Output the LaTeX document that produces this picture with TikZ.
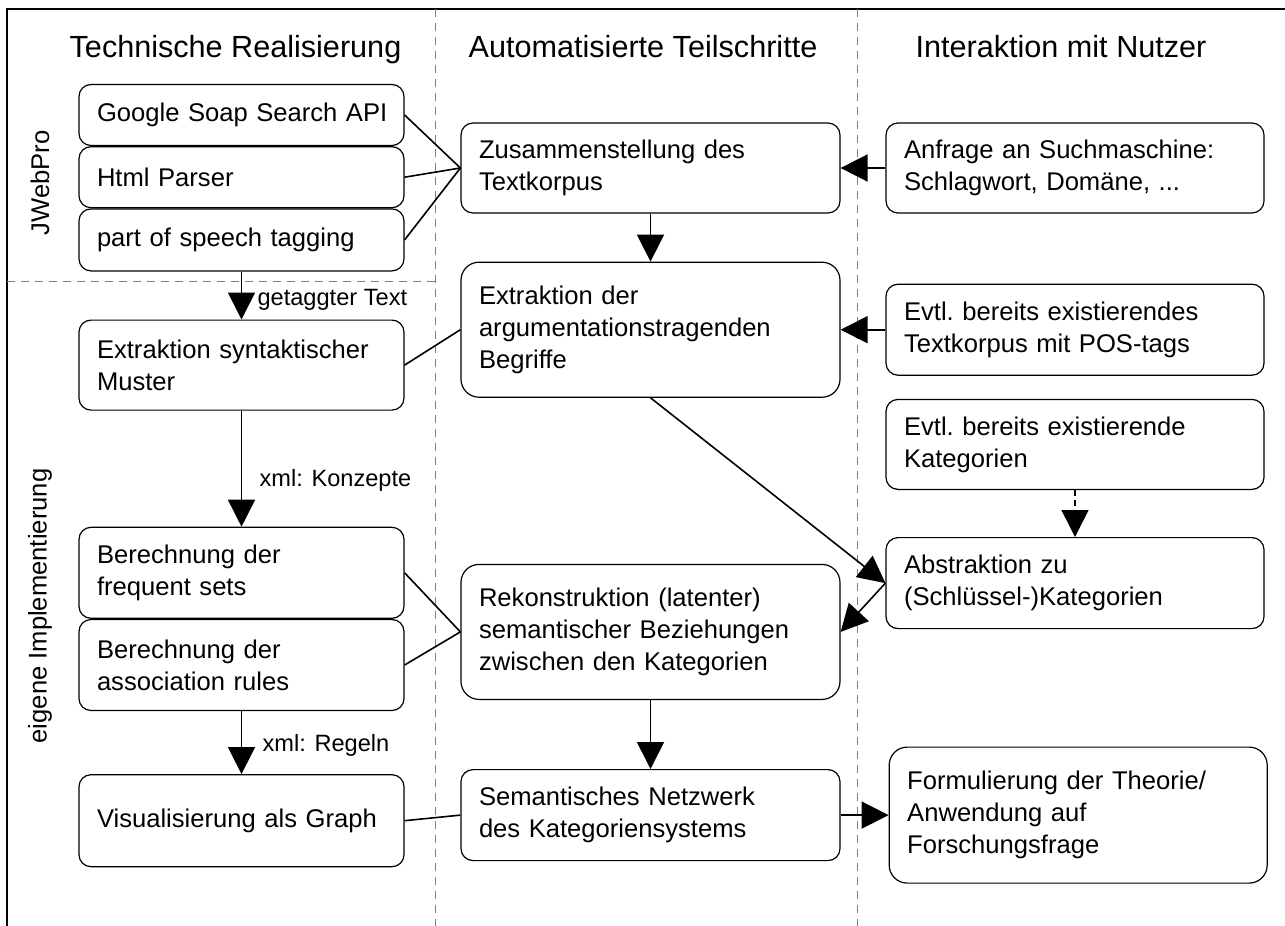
\documentclass[tikz,border=0pt]{standalone}
\usepackage{fontspec}
\setmainfont{Liberation Sans}
\usetikzlibrary{arrows.meta, positioning}

\newcommand{\boxfont}{\fontsize{12.8}{16}\selectfont\frenchspacing}
\newcommand{\headfont}{\fontsize{15.3}{18}\selectfont}
\newcommand{\lblfont}{\fontsize{11.8}{14}\selectfont}

\begin{document}
\begin{tikzpicture}[
    x=0.5pt, y=-0.5pt,
    box/.style={rectangle, draw, line width=0.6pt, rounded corners=6pt,
                align=left, inner xsep=9pt, font=\boxfont},
    techbox/.style={box, text width=144.5pt, minimum height=#1},
    techbox/.default=45.5pt,
    stepbox/.style={box, text width=171.5pt, minimum height=#1},
    stepbox/.default=45.5pt,
    userbox/.style={box, text width=171pt, minimum height=#1},
    userbox/.default=45.5pt,
    head/.style={font=\headfont, anchor=base},
    lane/.style={font=\boxfont, rotate=90},
    link/.style={line width=0.8pt},
    flow/.style={link, -{Triangle[length=13.5pt, width=13.5pt]}},
    lbl/.style={font=\lblfont},
    sep/.style={gray, line width=0.5pt, dash pattern=on 4pt off 3pt}
]
    \useasboundingbox (0,0) rectangle (1285,926);

    % Frame and lanes
    \draw[line width=0.6pt] (1285,9) -- (7,9) -- (7,926);
    \draw[sep] (435.5,9) -- (435.5,926);
    \draw[sep] (857,9) -- (857,926);
    \draw[sep] (7,281) -- (435.5,281);

    % Headers
    \node[head] (hTech) at (235.5,57) {Technische Realisierung};
    \node[head] (hAuto) at (643,57) {Automatisierte Teilschritte};
    \node[head] (hUser) at (1061,57) {Interaktion mit Nutzer};

    \node[lane] (jweb) at (40,183) {JWebPro};
    \node[lane] (own) at (40,606) {eigene Implementierung};

    % Technische Realisierung
    \node[techbox=30.5pt] (google) at (241.5,115) {\mbox{Google Soap Search API}};
    \node[techbox=30.5pt, below=0pt of google] (html) {Html Parser};
    \node[techbox=31pt, below=0pt of html] (pos) {part of speech tagging};
    \node[techbox=45pt, below=24pt of pos] (syntax) {Extraktion syntaktischer\\Muster};
    \node[techbox, below=58pt of syntax] (freq) {Berechnung der\\frequent sets};
    \node[techbox, below=0pt of freq] (assoc) {Berechnung der\\association rules};
    \node[techbox=46pt, below=31.5pt of assoc] (vis) {Visualisierung als Graph};

    % Automatisierte Teilschritte
    \node[stepbox=45pt] (corpus) at (650.5,168) {Zusammenstellung des\\Textkorpus};
    \node[stepbox=67.5pt, rounded corners=9pt, below=24pt of corpus] (terms) {Extraktion der\\argumentationstragenden\\Begriffe};
    \node[stepbox=67.5pt, rounded corners=9pt, below=83pt of terms] (recon) {Rekonstruktion (latenter)\\semantischer Beziehungen\\zwischen den Kategorien};
    \node[stepbox, below=34.5pt of recon] (net) {Semantisches Netzwerk\\des Kategoriensystems};

    % Interaktion mit Nutzer
    \node[userbox=45pt] (query) at (1075,168) {Anfrage an Suchmaschine:\\Schlagwort, Domäne, ...};
    \node[userbox, below=35pt of query] (tagged) {Evtl. bereits existierendes\\Textkorpus mit POS-tags};
    \node[userbox=45pt, below=11.5pt of tagged] (cats) {Evtl. bereits existierende\\Kategorien};
    \node[userbox, below=23.5pt of cats] (abstr) {Abstraktion zu\\(Schlüssel-)Kategorien};
    \node[userbox=68pt, rounded corners=9pt, right=24pt of net] (theory) {Formulierung der Theorie/\\Anwendung auf\\Forschungsfrage};

    % Connectors
    \draw[link] (google.east) -- (corpus.west);
    \draw[link] (html.east) -- (corpus.west);
    \draw[link] (pos.east) -- (corpus.west);
    \draw[flow] (query) -- (corpus);
    \draw[flow] (corpus) -- (terms);
    \draw[flow] (tagged) -- (terms);
    \draw[link] (syntax.east) -- (terms.west);
    \draw[flow] (pos) -- node[lbl, right=4.3pt, pos=0.6] {getaggter Text} (syntax);
    \draw[flow] (syntax) -- node[lbl, right=5.3pt, pos=0.6] {xml: Konzepte} (freq);
    \draw[flow] (terms.south) -- (abstr.west);
    \draw[flow, dash pattern=on 3pt off 2pt] (cats) -- (abstr);
    \draw[flow] (abstr.west) -- (recon.east);
    \draw[link] (freq.east) -- (recon.west);
    \draw[link] (assoc.east) -- (recon.west);
    \draw[flow] (assoc) -- node[lbl, right=6.8pt, pos=0.54] {xml: Regeln} (vis);
    \draw[flow] (recon) -- (net);
    \draw[link] (vis.east) -- (net.west);
    \draw[flow] (net) -- (theory);
\end{tikzpicture}
\end{document}
